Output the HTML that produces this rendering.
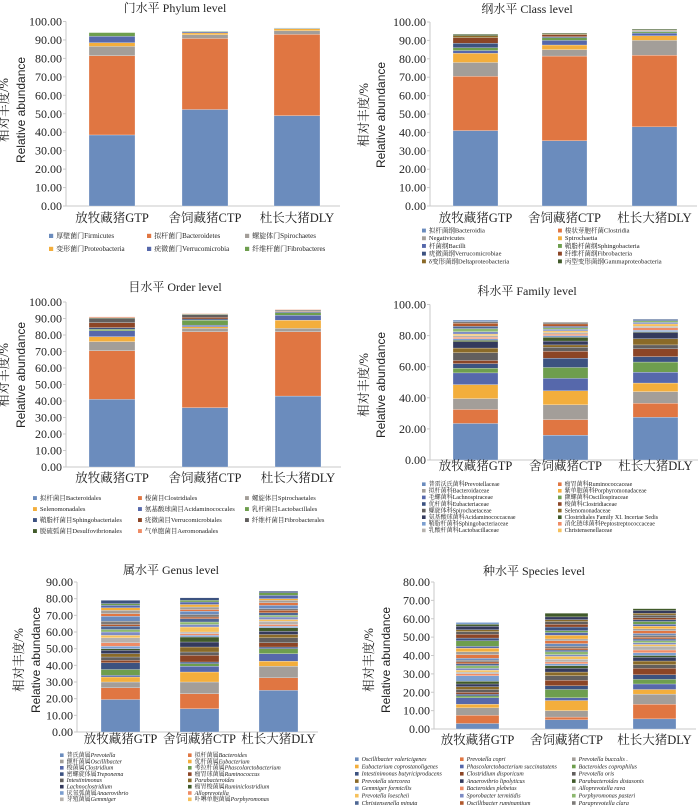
<!DOCTYPE html>
<html><head><meta charset="utf-8">
<style>
html,body{margin:0;padding:0;background:#fff;}
svg{display:block;}
text{font-family:"Liberation Serif","Noto Serif CJK SC",serif;fill:#222;}
.sans{font-family:"Liberation Sans","Noto Sans CJK SC",sans-serif;}
</style></head>
<body>
<svg id="fig" width="700" height="807" viewBox="0 0 700 807" xmlns="http://www.w3.org/2000/svg"></svg>
<script>
// ===== Data =====
const groups = ['放牧藏猪GTP','舍饲藏猪CTP','杜长大猪DLY'];
const palette = ['#6b8cbd','#e07642','#a39e99','#f3ae3c','#5668ab','#6e9e4e','#3c5280','#8c4526','#625f5e','#8a6a28','#343a5c','#415a2a','#7c9fd0','#ef8c66','#b6b2ae','#f6c15c','#7d8bc4','#8db86f','#4e6794','#b0582c','#7d7a78'];

const phylumNames = ['厚壁菌门Firmicutes','拟杆菌门Bacteroidetes','螺旋体门Spirochaetes','变形菌门Proteobacteria','疣微菌门Verrucomicrobia','纤维杆菌门Fibrobacteres'];
const phylumGTP = [38.5,43,5,2,3.5,2];
const phylumCTP = [52.3,38.5,2,1,0.7,0.3];
const phylumDLY = [49,44,2,1,0.3,0.2];
const phylumTicks = [0,10,20,30,40,50,60,70,80,90,100];

const classNames = ['拟杆菌纲Bacteroidia','梭状芽胞杆菌Clostridia','Negativicutes','Spirochaetia','杆菌纲Bacilli','鞘脂杆菌纲Sphingobacteria','疣微菌纲Verrucomicrobiae','纤维杆菌纲Fibrobacteria','δ变形菌纲Deltaproteobacteria','丙型变形菌纲Gammaproteobacteria'];
const classGTP = [41,29.5,7.5,5,1.5,1.5,2.5,3,1,0.8];
const classCTP = [35.5,46,3.5,2.5,2.5,1.5,0.5,1,0.5,0.5];
const classDLY = [43,39,8,2.5,1.5,0.8,0.3,0.3,0.2,0.5];
const classTicks = [0,10,20,30,40,50,60,70,80,90,100];

const orderNames = ['拟杆菌目Bacteroidales','梭菌目Clostridiales','螺旋体目Spirochaetales','Selenomonadales','氨基酸球菌目Acidaminococcales','乳杆菌目Lactobacillales','鞘脂杆菌目Sphingobacteriales','疣微菌目Verrucomicrobiales','纤维杆菌目Fibrobacterales','脱硫弧菌目Desulfovibrionales','气单胞菌目Aeromonadales'];
const orderGTP = [41,29.5,5.5,3,3.5,1,1,3,2.5,0.5,0.5];
const orderCTP = [36,46,2,1,1,3,0.7,1,1.5,0.5,0.3];
const orderDLY = [43,39,2,5,3,1.5,0.5,0.5,0.5,0.2,0.3];
const orderTicks = [0,10,20,30,40,50,60,70,80,90,100];

const familyNames = ['普雷沃氏菌科Prevotellaceae','瘤胃菌科Ruminococcaceae','拟杆菌科Bacteroidaceae','紫单胞菌科Porphyromonadaceae','毛螺菌科Lachnospiraceae','颤螺菌科Oscillospiraceae','优杆菌科Eubacteriaceae','梭菌科Clostridiaceae','螺旋体科Spirochaetaceae','Selenomonadaceae','氨基酸球菌科Acidaminococcaceae','Clostridiales Family XI. Incertae Sedis','鞘脂杆菌科Sphingobacteriaceae','消化链球菌科Peptostreptococcaceae','乳酸杆菌科Lactobacillaceae','Christensenellaceae'];
const familyGTP = [23.5,9,7,9,7.5,3,3,2,5,3,4,1,1,1,1,1,1.5,2,1.5,2,1,1];
const familyCTP = [16,10,9.5,9,8,7,6,4.5,2.5,1.5,2.5,2.5,1,1,1,1,1,1,1,1.5,1];
const familyDLY = [27.5,9,7.5,5.5,7,6.5,3.5,5,2.5,4,4,0.5,1,1.5,1,1.5,1,1,1];
const familyTicks = [0,20,40,60,80,100];

const genusNames = ['普氏菌属<i>Prevotella</i>','拟杆菌属<i>Bacteroides</i>','颤杆菌属<i>Oscillibacter</i>','优杆菌属<i>Eubacterium</i>','梭菌属<i>Clostridium</i>','考拉杆菌属<i>Phascolarctobacterium</i>','密螺旋体属<i>Treponema</i>','瘤胃球菌属<i>Ruminococcus</i>','<i>Intestinimonas</i>','<i>Parabacteroides</i>','<i>Lachnoclostridium</i>','瘤胃梭菌属<i>Ruminiclostridium</i>','厌氧弧菌属<i>Anaerovibrio</i>','<i>Alloprevotella</i>','芽殖菌属<i>Gemmiger</i>','卟啉单胞菌属<i>Porphyromonas</i>'];
const genusGTP = [19.5,7,3.5,3,1,3.5,4,1.5,2,2,2,1,1.5,2,3,1.5,2,1.5,2,1,2,3,1.5,2,1.5,1.5,1,2];
const genusCTP = [14,9,7,6,3.5,1.5,1,4,2,3,3,3,1,1,1,3,1.5,1.5,2,1,1.5,2,1,1.5,1.5,1.5,1,1.5];
const genusDLY = [25,7.5,7,3,4.5,3,1,2.5,3,2,2,2,1,1,2,1,1.5,1,1.5,1.5,1,2,1.5,1.5,1,2,1.5,1];
const genusTicks = [0,10,20,30,40,50,60,70,80,90];

const speciesNames = ['Oscillibacter valericigenes','Prevotella copri','Prevotella buccalis .','Eubacterium coprostanoligenes','Phascolarctobacterium succinatutens','Bacteroides coprophilus','Intestinimonas butyriciproducens','Clostridium disporicum','Prevotella oris','Prevotella stercorea','Anaerovibrio lipolyticus','Parabacteroides distasonis','Gemmiger formicilis','Bacteroides plebeius','Alloprevotella rava','Prevotella loescheii','Sporobacter termitidis','Porphyromonas pasteri','Christensenella minuta','Oscillibacter ruminantium','Paraprevotella clara'];
const speciesGTP = [3,4.5,4,2,3.5,1,1,1,1.5,1.5,1.5,1.5,3,1,1,1,1,1.5,1,1,1,1,2,1.5,2,1,3,1.5,2,1.5,1,2,1,1];
const speciesCTP = [5,1.5,3.5,5.5,1.5,4.5,2,3,2.5,2,2,1.5,1,1,1.5,1.5,1,1.5,1,1,1,1.5,1.5,1,2,1.5,1,2,1.5,1.5,1,1.5,2];
const speciesDLY = [5.5,8,5.5,2.5,3,2.5,2.5,3.5,2,2,2,1,1.5,1.5,2,1,1,1,1,1,1,1,1.5,1,1.5,1,1.5,1,1,1.5,1,1.5,1];
const speciesTicks = [0,10,20,30,40,50,60,70,80];

// ===== Layout =====
const charts = [
 {id:'phylum',title:'门水平 Phylum level',tx:175,ty:12,max:100,ticks:phylumTicks,names:phylumNames,vals:[phylumGTP,phylumCTP,phylumDLY],
  ax:66,yTop:21.5,y0:206,bars:[89,182,274],bw:46,xl:222,yl:[8,21],ylc:110,cols:[49,147,245],rowY:238,rowH:13,ncol:3,lfs:7,colors:[0,1,2,3,4,5]},
 {id:'class',title:'纲水平 Class level',tx:527,ty:13,max:100,ticks:classTicks,names:classNames,vals:[classGTP,classCTP,classDLY],
  ax:430,yTop:22,y0:206,bars:[453,542,632],bw:45,xl:222,yl:[368,381],ylc:115,cols:[422,558],rowY:232.5,rowH:7.7,ncol:2,lfs:6.5,colors:[0,1,2,3,4,5,6,7,9,11]},
 {id:'order',title:'目水平 Order level',tx:175,ty:291,max:100,ticks:orderTicks,names:orderNames,vals:[orderGTP,orderCTP,orderDLY],
  ax:66,yTop:302,y0:467,bars:[89,182,275],bw:46,xl:482,yl:[8,21],ylc:375,cols:[33,138,245],rowY:500,rowH:11,ncol:3,lfs:6.5,colors:[0,1,2,3,4,5,6,7,8,11,13]},
 {id:'family',title:'科水平 Family level',tx:527,ty:295,max:100,ticks:familyTicks,names:familyNames,vals:[familyGTP,familyCTP,familyDLY],
  ax:430,yTop:304.5,y0:460,bars:[453,543,633],bw:45,xl:470,yl:[368,381],ylc:385,cols:[422,558],rowY:486,rowH:6.6,ncol:2,lfs:6,colors:null},
 {id:'genus',title:'属水平 Genus level',tx:171,ty:574,max:90,ticks:genusTicks,names:genusNames,vals:[genusGTP,genusCTP,genusDLY],
  ax:77,yTop:582,y0:732,bars:[101,180,259],bw:39,xl:743,yl:[23,36],ylc:660,cols:[60,188],rowY:757,rowH:6.3,ncol:2,lfs:6,colors:null},
 {id:'species',title:'种水平 Species  level',tx:534,ty:575,max:80,ticks:speciesTicks,names:speciesNames,vals:[speciesGTP,speciesCTP,speciesDLY],
  ax:434,yTop:582,y0:729,bars:[456,545,633],bw:43,xl:744,yl:[373,386],ylc:660,cols:[355,460,572],rowY:761,rowH:7.3,ncol:3,lfs:6,colors:null,italic:true}
];

const NS='http://www.w3.org/2000/svg';
const svg=document.getElementById('fig');
function mk(tag,attrs,parent){const e=document.createElementNS(NS,tag);for(const k in attrs)e.setAttribute(k,attrs[k]);(parent||svg).appendChild(e);return e;}

charts.forEach(c=>{
  const g=mk('g',{});
  
  
  const yScale=v=>c.y0-v/c.max*(c.y0-c.yTop);
  const colorOf=i=>palette[(c.colors?c.colors[i]:i)%palette.length];
  // title
  const t=mk('text',{x:c.tx,y:c.ty,'text-anchor':'middle','font-size':12},g);
  t.textContent=c.title;
  
  
  // y-axis title
  const yt=mk('text',{transform:`translate(${c.yl[0]},${c.ylc}) rotate(-90)`,'text-anchor':'middle','font-size':12.5},g);
  yt.textContent='相对丰度/%';
  
  
  const yt2=mk('text',{transform:`translate(${c.yl[1]+4},${c.ylc}) rotate(-90)`,'text-anchor':'middle','font-size':12,class:'sans'},g);
  yt2.textContent='Relative abundance';
  
  
  // axis
  const ax=mk('line',{x1:c.ax,x2:c.ax,y1:c.yTop,y2:c.y0,stroke:'#c8c8c8','stroke-width':1},g);
  
  
  const bx=mk('line',{x1:c.ax,x2:c.bars[2]+c.bw+20,y1:c.y0,y2:c.y0,stroke:'#c8c8c8','stroke-width':1},g);
  
  
  c.ticks.forEach(v=>{
    const y=yScale(v);
    mk('line',{x1:c.ax-3,x2:c.ax,y1:y,y2:y,stroke:'#c8c8c8'},g);
    const tl=mk('text',{x:c.ax-4,y:y+4,'text-anchor':'end','font-size':12},g);
    tl.textContent=v.toFixed(2);
    
    
  });
  // bars
  c.vals.forEach((arr,gi)=>{
    let acc=0;
    arr.forEach((v,si)=>{
      const y1=yScale(acc), y2=yScale(acc+v);
      const r=mk('rect',{x:c.bars[gi],y:y2,width:c.bw,height:Math.max(0,y1-y2),fill:colorOf(si),stroke:'#ffffff','stroke-width':0.25},g);
      
      
      acc+=v;
    });
    const xl=mk('text',{x:c.bars[gi]+c.bw/2,y:c.xl,'text-anchor':'middle','font-size':12.5},g);
    xl.textContent=groups[gi];
    
    
  });
  // legend
  c.names.forEach((n,i)=>{
    const col=i%c.ncol,row=Math.floor(i/c.ncol);
    const x=c.cols[col],y=c.rowY+row*c.rowH;
    const sw=mk('rect',{x:x,y:y-c.lfs*0.6,width:c.lfs*0.6,height:c.lfs*0.6,fill:colorOf(i)},g);
    
    
    const lt=mk('text',{x:x+c.lfs*0.6+3,y:y,'font-size':c.lfs,fill:'#333'},g);
    if(c.italic){lt.setAttribute('font-style','italic');lt.textContent=n;}
    else{
      const parts=n.split(/(<i>.*?<\/i>)/);
      parts.forEach(p=>{if(!p)return;const ts=mk('tspan',{},lt);if(p.startsWith('<i>')){ts.setAttribute('font-style','italic');ts.textContent=p.replace(/<\/?i>/g,'');}else ts.textContent=p;});
    }
    
    
  });
});
</script>
</body></html>
